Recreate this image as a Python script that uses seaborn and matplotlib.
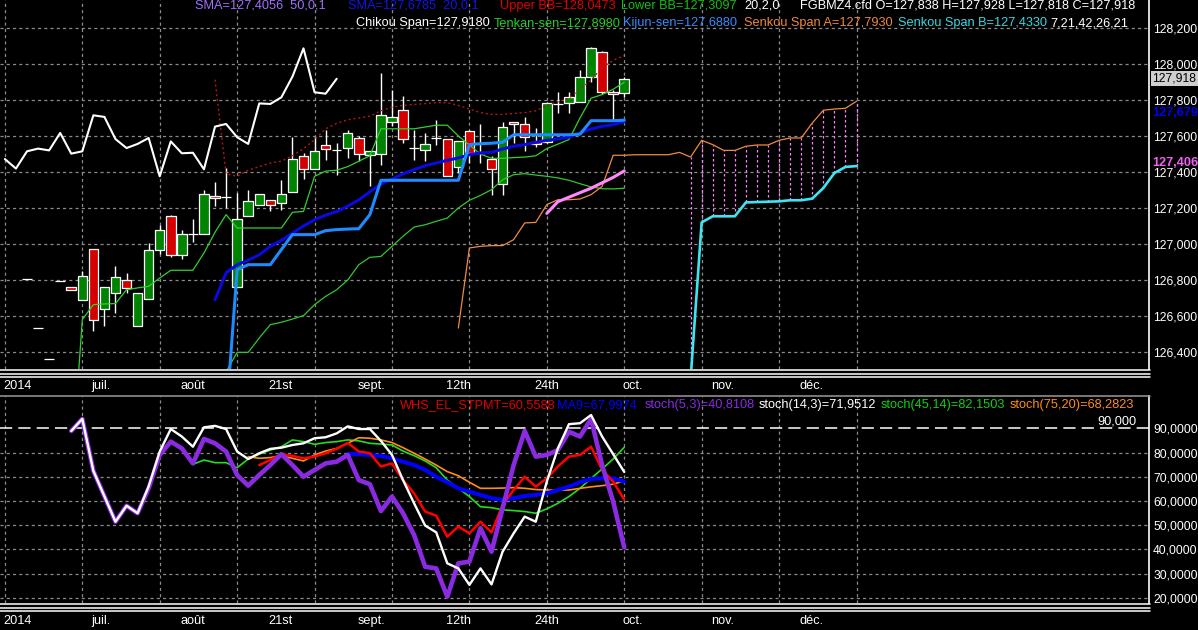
import numpy as np
import matplotlib
matplotlib.use("Agg")
import matplotlib.pyplot as plt
import matplotlib.transforms as mtransforms
from matplotlib.lines import Line2D
from matplotlib.ticker import FuncFormatter
import seaborn as sns

# ---------------- price bars FGBMZ4 (bar 0 .. 54)
opens = [126.805, 126.533, 126.361, 126.796, 126.760, 126.687, 126.972, 126.639, 126.728, 126.798,
         126.543, 126.694, 126.965, 127.154, 126.937, 127.054, 127.056, 127.269, 127.259, 126.761,
         127.157, 127.219, 127.246, 127.228, 127.289, 127.487, 127.419, 127.552, 127.520, 127.533,
         127.589, 127.496, 127.502, 127.678, 127.746, 127.533, 127.520, 127.589, 127.583, 127.428,
         127.628, 127.507, 127.470, 127.333, 127.680, 127.665, 127.568, 127.568, 127.778, 127.781,
         127.790, 127.930, 128.065, 127.843, 127.838]
highs = [126.805, 126.533, 126.361, 126.796, 126.760, 126.848, 126.972, 126.761, 126.880, 126.839,
         126.728, 127.006, 127.107, 127.163, 127.080, 127.139, 127.302, 127.343, 127.422, 127.283,
         127.302, 127.278, 127.246, 127.357, 127.594, 127.506, 127.594, 127.635, 127.561, 127.635,
         127.598, 127.515, 127.950, 127.857, 127.820, 127.635, 127.617, 127.687, 127.583, 127.570,
         127.635, 127.667, 127.490, 127.680, 127.680, 127.704, 127.643, 127.790, 127.843, 127.846,
         127.967, 128.096, 128.070, 127.856, 127.928]
lows = [126.805, 126.533, 126.361, 126.796, 126.745, 126.687, 126.515, 126.543, 126.617, 126.728,
        126.543, 126.694, 126.946, 126.926, 126.917, 127.013, 127.056, 127.209, 127.200, 126.761,
        127.157, 127.219, 127.181, 127.191, 127.289, 127.363, 127.419, 127.469, 127.385, 127.478,
        127.459, 127.320, 127.441, 127.654, 127.561, 127.469, 127.459, 127.552, 127.376, 127.394,
        127.450, 127.450, 127.270, 127.270, 127.560, 127.518, 127.541, 127.561, 127.730, 127.726,
        127.790, 127.900, 127.835, 127.689, 127.818]
closes = [126.805, 126.533, 126.361, 126.796, 126.745, 126.820, 126.580, 126.761, 126.817, 126.756,
          126.728, 126.969, 127.080, 126.937, 127.054, 127.054, 127.278, 127.254, 127.259, 127.139,
          127.237, 127.278, 127.219, 127.278, 127.472, 127.419, 127.515, 127.530, 127.520, 127.617,
          127.502, 127.515, 127.715, 127.706, 127.583, 127.533, 127.556, 127.589, 127.376, 127.570,
          127.504, 127.507, 127.415, 127.652, 127.667, 127.593, 127.556, 127.781, 127.778, 127.815,
          127.930, 128.087, 127.843, 127.835, 127.918]

# ---------------- indicator lines, each with the bar it starts at
tenkan_start = 4
tenkan = [125.70, 126.580, 126.663, 126.667, 126.669, 126.746, 126.756, 126.765, 126.811, 126.854,
          126.854, 126.854, 126.950, 127.065, 127.163, 127.089, 127.089, 127.089, 127.089, 127.089,
          127.176, 127.181, 127.376, 127.405, 127.410, 127.430, 127.460, 127.490, 127.640, 127.640,
          127.640, 127.640, 127.650, 127.660, 127.660, 127.600, 127.550, 127.500, 127.476, 127.476,
          127.480, 127.483, 127.490, 127.530, 127.555, 127.580, 127.700, 127.810, 127.830, 127.860,
          127.898]
kijun_start = 18
kijun = [126.03, 126.857, 126.885, 126.885, 126.885, 126.969, 127.052, 127.052, 127.052, 127.074,
         127.080, 127.083, 127.085, 127.163, 127.354, 127.354, 127.354, 127.354, 127.354, 127.354,
         127.354, 127.354, 127.552, 127.557, 127.560, 127.565, 127.607, 127.607, 127.607, 127.607,
         127.607, 127.607, 127.610, 127.685, 127.685, 127.685, 127.688]
bb_start = 17
sma20 = [126.69, 126.84, 126.885, 126.91, 126.94, 126.987, 127.02, 127.06, 127.10, 127.135,
         127.16, 127.18, 127.21, 127.245, 127.29, 127.333, 127.36, 127.39, 127.413, 127.435,
         127.45, 127.465, 127.478, 127.496, 127.506, 127.509, 127.528, 127.543, 127.552, 127.565,
         127.576, 127.583, 127.594, 127.617, 127.639, 127.654, 127.663, 127.679]
upper_bb = [127.913, 127.39, 127.376, 127.41, 127.43, 127.45, 127.46, 127.49, 127.53, 127.58,
            127.64, 127.67, 127.69, 127.70, 127.71, 127.74, 127.76, 127.77, 127.775, 127.78,
            127.785, 127.785, 127.77, 127.75, 127.73, 127.72, 127.72, 127.725, 127.73, 127.74,
            127.77, 127.79, 127.81, 127.86, 127.91, 127.98, 128.02, 128.047]
lower_bb = [125.50, 126.29, 126.398, 126.398, 126.478, 126.552, 126.565, 126.583, 126.602, 126.663,
            126.709, 126.746, 126.80, 126.885, 126.926, 126.931, 126.987, 127.043, 127.094, 127.107,
            127.126, 127.144, 127.20, 127.243, 127.270, 127.302, 127.357, 127.385, 127.391, 127.383,
            127.376, 127.367, 127.354, 127.335, 127.317, 127.307, 127.306, 127.310]
sma50_start = 47
sma50 = [127.17, 127.235, 127.26, 127.285, 127.31, 127.34, 127.37, 127.406]
senkou_a_start = 39
senkou_a = [126.533, 126.978, 126.987, 126.991, 126.991, 127.024, 127.117, 127.120, 127.219, 127.246,
            127.246, 127.250, 127.274, 127.320, 127.493, 127.493, 127.496, 127.496, 127.496, 127.496,
            127.509, 127.483, 127.576, 127.552, 127.520, 127.520, 127.543, 127.550, 127.550, 127.576,
            127.589, 127.589, 127.672, 127.743, 127.750, 127.754, 127.793]
senkou_b_start = 60
senkou_b = [126.25, 127.120, 127.154, 127.154, 127.154, 127.231, 127.233, 127.235, 127.237, 127.243,
            127.243, 127.252, 127.311, 127.394, 127.428, 127.433]
chikou_shift = 26

# ---------------- oscillators (lower panel)
stoch53_start = 4
stoch53 = [88.9, 93.9, 72.4, 61.9, 51.4, 58.0, 54.9, 65.2, 79.0, 84.5,
           81.7, 75.5, 85.6, 83.8, 80.4, 70.7, 66.3, 70.7, 74.8, 79.3,
           74.8, 70.0, 72.8, 75.5, 76.2, 79.0, 68.6, 66.9, 55.8, 61.8,
           54.9, 45.9, 32.8, 32.1, 20.4, 34.2, 34.9, 48.7, 39.0, 56.9,
           74.8, 88.9, 78.3, 79.0, 81.0, 88.6, 86.6, 93.9, 74.8, 59.7, 40.81]
stoch143_start = 4
stoch143 = [88.9, 93.9, 72.4, 61.9, 51.4, 58.0, 54.9, 66.0, 80.4, 89.7,
            86.6, 82.4, 90.4, 91.0, 89.7, 80.4, 77.3, 79.7, 81.5, 82.0,
            83.1, 83.8, 85.9, 86.3, 87.9, 90.8, 89.7, 89.7, 84.8, 79.0,
            68.6, 59.0, 49.8, 47.0, 34.2, 32.1, 25.3, 32.1, 25.5, 39.0,
            46.6, 53.5, 51.4, 68.0, 81.7, 91.7, 92.1, 95.5, 86.6, 79.3, 71.95]
stoch4514_start = 15
stoch4514 = [75.1, 76.9, 75.8, 75.8, 73.7, 77.3, 79.3, 81.0, 82.4, 85.2,
             84.5, 83.4, 84.1, 84.5, 85.2, 84.8, 83.8, 83.5, 83.1, 80.6,
             78.7, 76.5, 73.7, 68.6, 65.2, 61.8, 57.6, 57.2, 56.3, 56.0,
             55.6, 54.9, 56.7, 59.0, 61.8, 65.2, 69.3, 73.2, 77.3, 82.15]
stoch7520_start = 20
stoch7520 = [78.3, 77.6, 77.9, 78.7, 77.6, 76.5, 79.0, 80.6, 81.7, 83.8,
             86.1, 85.9, 85.2, 84.1, 82.0, 79.7, 77.3, 74.8, 72.1, 70.4,
             67.7, 65.2, 65.2, 65.3, 65.5, 65.2, 64.7, 64.5, 64.4, 64.5,
             65.2, 65.8, 66.3, 66.9, 68.28]
whs_start = 21
whs = [74.8, 76.9, 79.3, 78.6, 77.6, 78.3, 79.7, 81.5, 84.0, 80.4,
       79.7, 74.2, 75.5, 68.6, 63.1, 55.6, 53.9, 45.2, 49.4, 46.6,
       51.4, 47.0, 58.3, 64.5, 70.0, 65.9, 69.3, 74.2, 78.3, 79.0,
       82.4, 72.8, 68.0, 60.56]
ma9_start = 29
ma9 = [79.3, 79.3, 79.0, 78.6, 77.6, 76.2, 74.8, 72.8, 70.0, 67.7,
       65.2, 63.8, 62.5, 61.1, 60.4, 61.1, 62.0, 62.5, 63.1, 64.5,
       65.9, 67.7, 69.1, 69.3, 69.3, 68.0]

date_labels = ["2014", "juil.", "août", "21st", "sept.", "12th", "24th", "oct.", "nov.", "déc."]
date_bars = [-2, 6, 14, 22, 30, 38, 46, 54, 62, 70]

# ---------------- style
sns.set_theme(style="dark", rc={"axes.facecolor": "black", "figure.facecolor": "black",
                                "savefig.facecolor": "black", "axes.grid": False})
plt.rcParams["font.family"] = ["Liberation Sans", "DejaVu Sans"]

W, H = 1198, 630
fig = plt.figure(figsize=(W / 100, H / 100), dpi=100)


def fx(x):
    return x / W


def fy(y):
    return 1 - y / H


# bar 0 sits at pixel 27, one bar = 11.06 px
x_left, x_right = (0 - 27) / 11.06, (1149 - 27) / 11.06
ax1 = fig.add_axes([0, fy(369), fx(1149), 369 / H])
ax2 = fig.add_axes([0, fy(603), fx(1149), (603 - 396) / H])


def line(ax, start, vals, color, lw, ls="-", z=4):
    x = np.arange(start, start + len(vals))
    sns.lineplot(x=x, y=vals, ax=ax, color=color, linewidth=lw, linestyle=ls,
                 estimator=None, zorder=z)


grid_kw = dict(color="#8a8a8a", lw=0.9, ls=(0, (2.5, 2.5)), zorder=1)
grid_bars = np.arange(-2, 76, 7)

# ---- upper panel
ax1.set_xlim(x_left, x_right)
ax1.set_ylim(128 - (369 - 64) / 180, 128 + 64 / 180)
price_ticks = np.arange(126.4, 128.21, 0.2)
for v in price_ticks:
    ax1.axhline(v, **grid_kw)
ax1.vlines(grid_bars, *ax1.get_ylim(), **grid_kw)

idx = np.arange(len(opens))
o, c = np.array(opens), np.array(closes)
body_col = np.where(c > o, "#008400", np.where(c < o, "#d40000", "black"))
ax1.vlines(idx, lows, highs, color="white", lw=1, zorder=2)
ax1.bar(idx, np.maximum(np.abs(c - o), 1e-4), bottom=np.minimum(o, c), width=0.86,
        color=body_col, edgecolor="white", linewidth=0.9, zorder=3)

fut = np.arange(senkou_b_start, senkou_b_start + len(senkou_b))
a_fut = np.array(senkou_a)[fut - senkou_a_start]
ax1.vlines(fut, senkou_b, a_fut, color="#ff80ff", lw=0.9, ls=(0, (2, 2)), zorder=3)

line(ax1, bb_start, upper_bb, "#b01818", 1.0, ls=(0, (1.5, 2)))
line(ax1, bb_start, lower_bb, "#2ec82e", 0.9)
line(ax1, tenkan_start, tenkan, "#2ed22e", 0.9)
line(ax1, senkou_a_start, senkou_a, "#f08a40", 0.9)
line(ax1, senkou_b_start, senkou_b, "#40e4f0", 1.9)
line(ax1, bb_start, sma20, "#0a0ae0", 2.2)
line(ax1, kijun_start, kijun, "#1e8cff", 2.2)
line(ax1, sma50_start, sma50, "#ff88ff", 2.2)
chik = closes[len(closes) - 31:]
line(ax1, len(closes) - 31 - chikou_shift, chik, "white", 1.5, z=5)

ax1.set_yticks(price_ticks)
ax1.yaxis.tick_right()
ax1.yaxis.set_major_formatter(FuncFormatter(lambda v, p: f"{v:.3f}".replace(".", ",")))
ax1.tick_params(axis="y", length=0, pad=3, labelsize=8.7, labelcolor="white")
ax1.set_xticks([])
ax1.set_xlabel("")
ax1.set_ylabel("")

# right-axis value flags
tr1 = mtransforms.blended_transform_factory(ax1.transAxes, ax1.transData)
ax1.text(1.0027, closes[-1], f"{closes[-1]:.3f}".replace(".", ","), transform=tr1,
         ha="left", va="center", fontsize=8.7, color="black",
         bbox=dict(boxstyle="square,pad=0.12", fc="#cfcfcf", ec="none"))
ax1.text(1.0027, 127.728, f"{sma20[-1]:.3f}".replace(".", ","), transform=tr1,
         ha="left", va="center", fontsize=9.2, color="#0000f0", fontweight="bold")
ax1.text(1.0027, 127.45, f"{sma50[-1]:.3f}".replace(".", ","), transform=tr1,
         ha="left", va="center", fontsize=9.2, color="#f060f0", fontweight="bold")

# ---- lower panel
ax2.set_xlim(x_left, x_right)
ax2.set_ylim(90 - (603 - 428.3) / 2.42, 90 + (428.3 - 396) / 2.42)
for v in range(20, 90, 10):
    ax2.axhline(v, **grid_kw)
ax2.vlines(grid_bars, *ax2.get_ylim(), **grid_kw)
ax2.axhline(90, color="white", lw=1.1, ls=(0, (8, 4)), zorder=2)

line(ax2, stoch4514_start, stoch4514, "#22dd22", 1.2)
line(ax2, stoch7520_start, stoch7520, "#ff8c1a", 1.2)
line(ax2, ma9_start, ma9, "#0000ff", 2.9)
line(ax2, whs_start, whs, "#ff0000", 1.8)
line(ax2, stoch53_start, stoch53, "#8a2be2", 3.3)
line(ax2, stoch143_start, stoch143, "white", 1.7, z=5)

ax2.set_yticks(range(20, 91, 10))
ax2.yaxis.tick_right()
ax2.yaxis.set_major_formatter(FuncFormatter(lambda v, p: f"{v:.4f}".replace(".", ",")))
ax2.tick_params(axis="y", length=0, pad=3, labelsize=8.7, labelcolor="white")
ax2.set_xticks([])
ax2.set_xlabel("")
ax2.set_ylabel("")
ax2.text(fx(1136), fy(421), "90,000", transform=fig.transFigure, ha="right", va="center",
         fontsize=9.2, color="white")

for ax in (ax1, ax2):
    for side in ("left", "top", "bottom"):
        ax.spines[side].set_visible(False)
    ax.spines["right"].set_color("white")
    ax.spines["right"].set_linewidth(1.2)

# panel separators
for y, col in [(369.5, "white"), (373.5, "white"), (376.5, "white"), (396, "#9a9a9a"),
               (603.5, "white"), (607.5, "white"), (611, "white")]:
    fig.add_artist(Line2D([0, fx(1150)], [fy(y), fy(y)], color=col, lw=1.1,
                          transform=fig.transFigure))

# date labels under each panel
trd = mtransforms.blended_transform_factory(ax1.transData, fig.transFigure)
for b, lab in zip(date_bars, date_labels):
    for y in (386, 621):
        ax1.text(b - 0.15, fy(y), lab, transform=trd, ha="left", va="center",
                 fontsize=9.2, color="white", clip_on=False)

# indicator captions
row1 = [("SMA=127,4056  50,0,1", "#a070ff", 195), ("SMA=127,6785  20,0,1", "#1414e6", 347.5),
        ("Upper BB=128,0473", "#e00000", 499.5), ("Lower BB=127,3097", "#10c010", 621),
        ("20,2,0", "white", 744), ("FGBMZ4.cfd O=127,838 H=127,928 L=127,818 C=127,918", "white", 800)]
row2 = [("Chikou Span=127,9180", "white", 356), ("Tenkan-sen=127,8980", "#22d022", 493.5),
        ("Kijun-sen=127,6880", "#3a8cff", 623.5), ("Senkou Span A=127,7930", "#f08a3a", 744),
        ("Senkou Span B=127,4330", "#38d8e0", 898.5), ("7,21,42,26,21", "white", 1050)]
row3 = [("WHS_EL_STPMT=60,5588", "#e00000", 400), ("MA9=67,9974", "#0000ff", 557),
        ("stoch(5,3)=40,8108", "#8a2be2", 644.5), ("stoch(14,3)=71,9512", "white", 759),
        ("stoch(45,14)=82,1503", "#10d010", 881), ("stoch(75,20)=68,2823", "#ff8c1a", 1010)]
for row, y in ((row1, 5.5), (row2, 23), (row3, 405)):
    for txt, col, x in row:
        fig.text(fx(x), fy(y), txt, ha="left", va="center", fontsize=9.2, color=col, zorder=10)

fig.savefig("out.png", dpi=100, facecolor="black")
